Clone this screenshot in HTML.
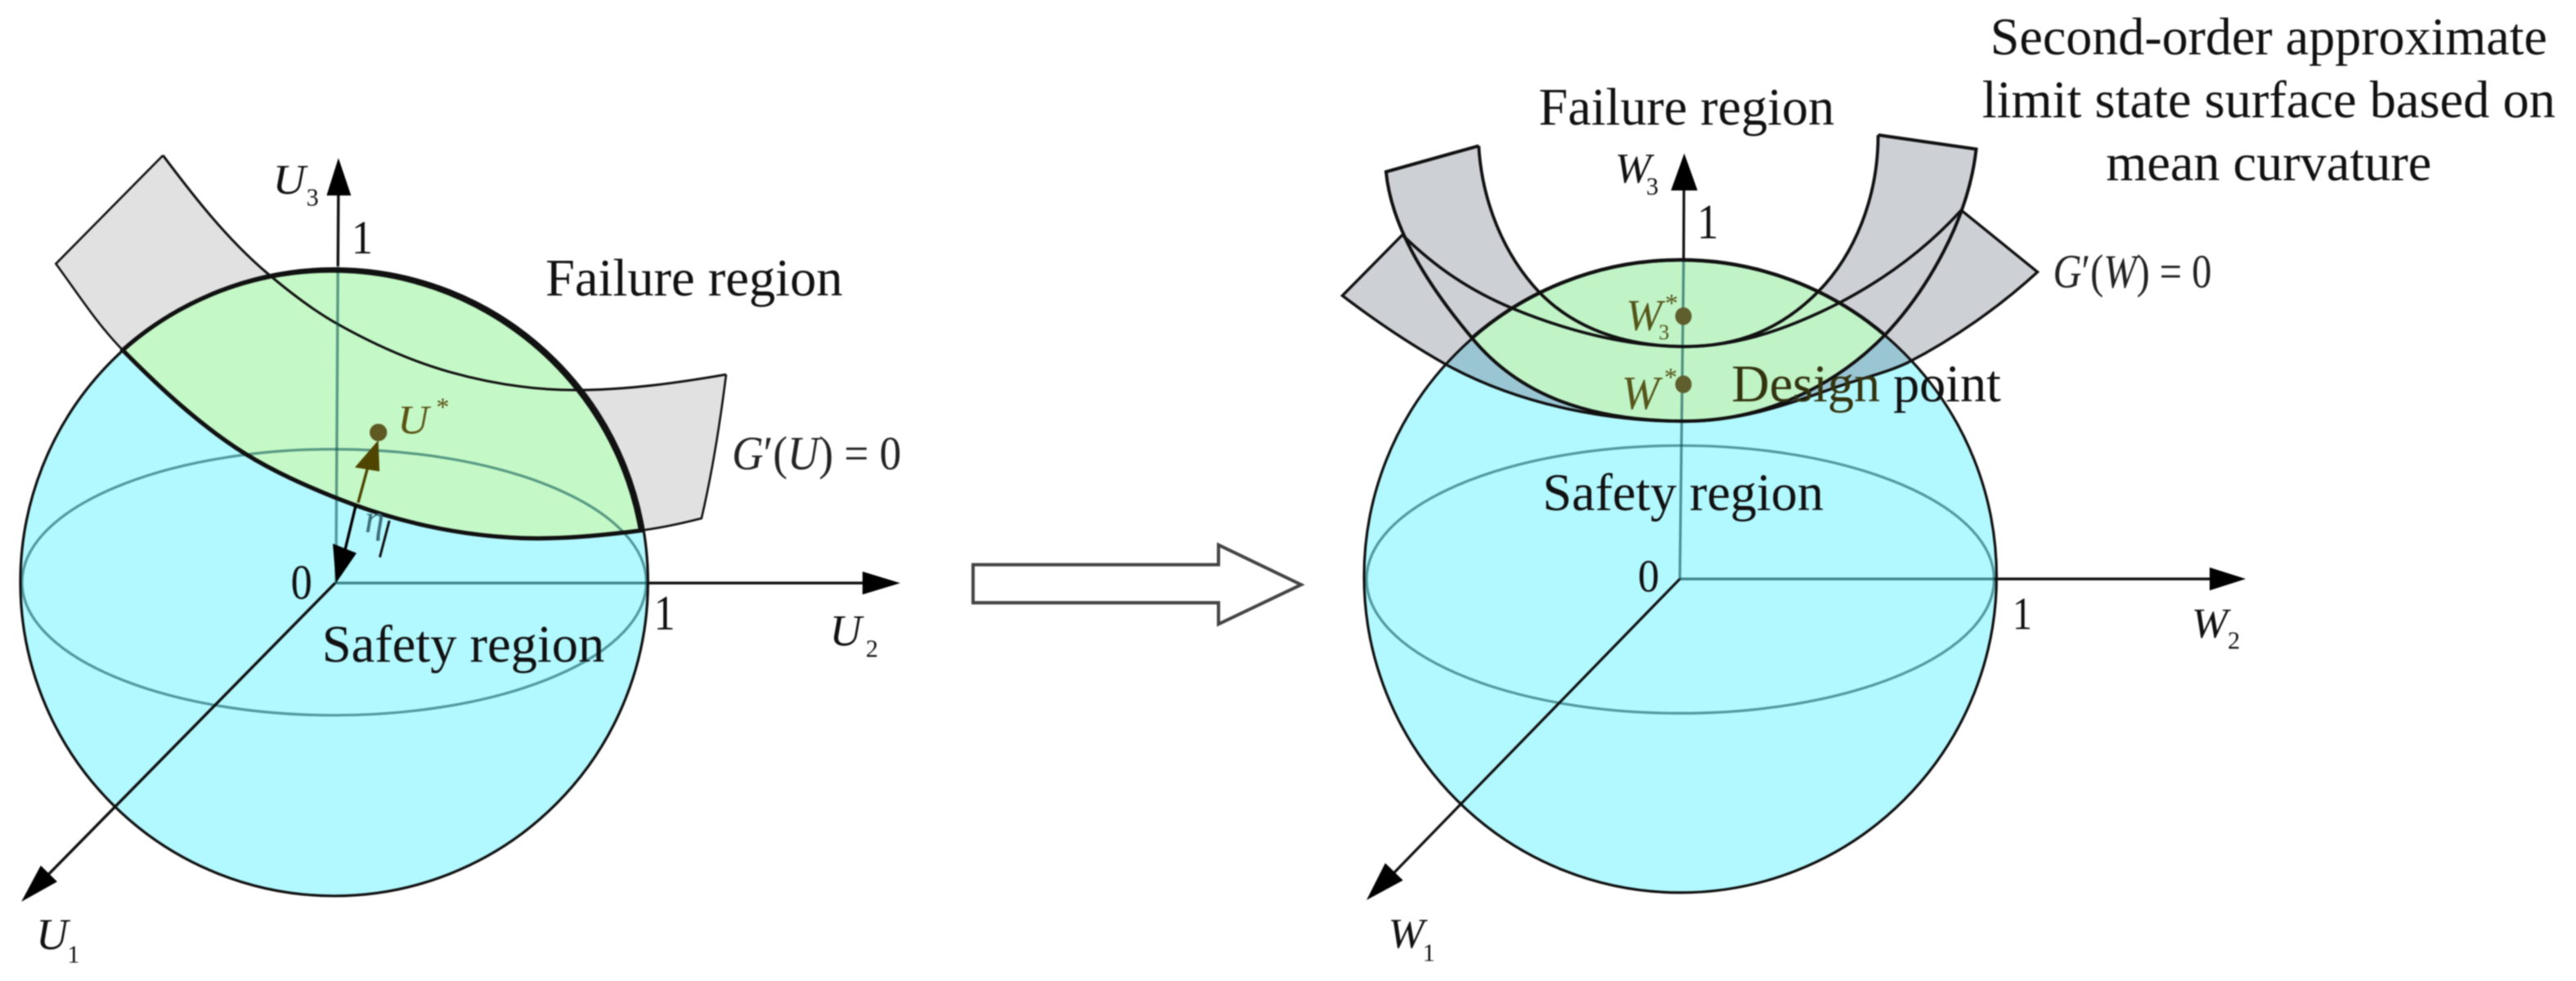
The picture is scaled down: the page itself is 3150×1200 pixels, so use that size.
<!DOCTYPE html>
<html><head><meta charset="utf-8"><style>
html,body{margin:0;padding:0;background:#fff}
svg{display:block;filter:blur(.7px)}
text{font-family:"Liberation Serif","DejaVu Serif",serif;fill:#111}
.i{font-style:italic}
</style></head><body>
<svg xmlns="http://www.w3.org/2000/svg" width="3150" height="1200" viewBox="0 0 1568 597.3" preserveAspectRatio="none">
<defs>
<clipPath id="cR"><circle cx="1022.8" cy="351" r="192.5"/></clipPath>
</defs>
<rect width="1568" height="597.3" fill="#fff"/>

<!-- LEFT -->
<path fill-rule="evenodd" fill="#e1e1e1" d="M34,160.6 C47,178.2 59.3,197.6 74.7,213.2 C97.1,235.9 122.1,259.3 149.3,276.3 C167.2,287.4 186.2,295.8 205.7,303.6 C242,318 281,326.5 320,327.7 C343,328.4 367.2,326 390,323 C402.4,321.4 414.9,318.7 427,315.6 C433,290 438,260 442,228 L99.2,94.6 Z M99.2,94.6 C118.1,119.8 137.9,145.1 161.8,165.6 C175.5,177.3 190,188.6 205.7,197.4 C227.2,209.5 250.1,219.8 273.8,226.5 C298.8,233.5 324.6,237.5 350.6,237.5 C381.2,237.5 411.9,233.2 442,228 Z"/>
<path fill="none" stroke="#111" stroke-width="1.3" d="M74.7,213.2 C59.3,197.6 47,178.2 34,160.6 L99.2,94.6"/>
<path fill="none" stroke="#111" stroke-width="1.3" d="M390,323 C402.4,321.4 414.9,318.7 427,315.6 C433,290 438,260 442,228"/>
<circle cx="203.4" cy="354.5" r="191" fill="#b2f8ff"/>
<path fill="#c4f8c6" d="M74.7,213.2 C97.1,235.9 122.1,259.3 149.3,276.3 C167.2,287.4 186.2,295.8 205.7,303.6 C242,318 281,326.5 320,327.7 C343,328.4 367.2,326 390,323 A191,191 0 0 0 74.7,213.2 Z"/>
<path fill="none" stroke="#111" stroke-width="1.5" d="M99.2,94.6 C118.1,119.8 137.9,145.1 161.8,165.6 C175.5,177.3 190,188.6 205.7,197.4 C227.2,209.5 250.1,219.8 273.8,226.5 C298.8,233.5 324.6,237.5 350.6,237.5 C381.2,237.5 411.9,233.2 442,228"/>
<!-- left equator & inner axes -->
<ellipse cx="203.4" cy="354.5" rx="190" ry="81" fill="none" stroke="#004c50" stroke-opacity=".55" stroke-width="1.6"/>
<line x1="204.5" y1="355" x2="205.7" y2="162" stroke="#004c50" stroke-opacity=".55" stroke-width="1.7"/>
<line x1="204" y1="355" x2="394" y2="355" stroke="#004c50" stroke-opacity=".65" stroke-width="1.7"/>
<circle cx="203.4" cy="354.5" r="191" fill="none" stroke="#111" stroke-width="1.6"/>
<path fill="none" stroke="#111" stroke-width="2.6" d="M74.7,213.2 C97.1,235.9 122.1,259.3 149.3,276.3 C167.2,287.4 186.2,295.8 205.7,303.6 C242,318 281,326.5 320,327.7 C343,328.4 367.2,326 390,323 A191,191 0 0 0 74.7,213.2 Z"/>
<!-- left axes -->
<line x1="205.7" y1="162" x2="206" y2="116" stroke="#111" stroke-width="1.7"/>
<polygon points="206,96.2 213.7,119 198.8,119" fill="#000"/>
<line x1="394" y1="355" x2="527" y2="355" stroke="#111" stroke-width="1.7"/>
<polygon points="548,355 525,348 525,362" fill="#000"/>
<line x1="204" y1="355" x2="25" y2="537" stroke="#111" stroke-width="1.7"/>
<polygon points="13,549 34.8,536.8 24.8,527" fill="#000"/>
<!-- eta arrows -->
<line x1="218" y1="306" x2="224" y2="284" stroke="#4f4500" stroke-width="1.7"/>
<line x1="216.5" y1="308" x2="210" y2="335" stroke="#000" stroke-width="1.7"/>
<polygon points="230.3,268 216,284.6 231,287" fill="#4f4500"/>
<polygon points="204.5,355 202.6,331 217,336.8" fill="#000"/>
<circle cx="230.3" cy="263.3" r="5.3" fill="#5f5a24"/>
<line x1="237" y1="317" x2="231.2" y2="339.3" stroke="#111" stroke-width="1.5"/>
<text class="i" x="222" y="324" font-size="24" style="fill:#3d7078">η</text>

<!-- left labels -->
<text x="332" y="180" font-size="32" textLength="181" lengthAdjust="spacingAndGlyphs">Failure region</text>
<text x="196" y="403" font-size="32" textLength="172" lengthAdjust="spacingAndGlyphs">Safety region</text>
<text class="i" x="166" y="118" font-size="26" textLength="20" lengthAdjust="spacingAndGlyphs">U</text><text x="186.5" y="125.3" font-size="15">3</text>
<text x="214" y="154.3" font-size="29" textLength="13" lengthAdjust="spacingAndGlyphs">1</text>
<text x="177" y="364.7" font-size="30" textLength="13" lengthAdjust="spacingAndGlyphs">0</text>
<text x="398" y="383.3" font-size="30" textLength="13" lengthAdjust="spacingAndGlyphs">1</text>
<text class="i" x="505" y="393" font-size="27">U</text><text x="527" y="400" font-size="15">2</text>
<text class="i" x="22" y="578" font-size="27">U</text><text x="41" y="586" font-size="15">1</text>
<text class="i" x="242" y="263.8" font-size="25" textLength="19" lengthAdjust="spacingAndGlyphs" style="fill:#5a5212">U</text><text x="265.5" y="253" font-size="16" style="fill:#5a5212">*</text>
<text x="445.6" y="285.7" font-size="29" textLength="103" lengthAdjust="spacingAndGlyphs" style="fill:#222"><tspan class="i">G</tspan>′(<tspan class="i">U</tspan>) = 0</text>

<!-- big arrow -->
<polygon points="592.3,343.8 741.7,343.8 741.7,331.8 792,356 741.7,380 741.7,367 592.3,367" fill="#fff" stroke="#444" stroke-width="2"/>

<!-- RIGHT -->
<path fill-rule="evenodd" fill="#cdd0d5" d="M817.1,180 C838,196 859,210 881,222.4 C906,236 933,245 962.3,250.6 C983,254.5 1004,256.6 1025.4,256.6 C1058,256.6 1086,247 1113.3,237.3 C1130,231 1146,228 1161.4,220.7 C1190,206 1218,186 1240.2,165.6 L1193.8,128 L853.6,143 Z M853.6,143 C874,163 895,177 920,187.5 C950,200 988,211 1025.4,211 C1060,211 1092,198.5 1120,184.2 C1147,170 1172,152 1193.8,128 Z"/>
<path fill-rule="evenodd" fill="#cdd0d5" d="M843.7,104.6 C847,140 871,176 896,205.8 C925,241 968,256.4 1025.4,256.4 C1075,256.4 1118,234 1147.3,204 C1172,178 1198,135 1202.9,90.8 L1143.2,82.2 L900.1,88.8 Z M900.1,88.8 C902,122 915,155 937.4,178.4 C960,201.5 992,211 1025.4,211 C1058,211 1084,200.5 1106.7,177.6 C1129,155 1143.2,120 1143.2,82.2 Z"/>
<circle cx="1022.8" cy="351" r="192.5" fill="#b2f8ff"/>
<g clip-path="url(#cR)">
<path fill="#9ac6d4" d="M817.1,180 C838,196 859,210 881,222.4 C906,236 933,245 962.3,250.6 C983,254.5 1004,256.6 1025.4,256.6 C1058,256.6 1086,247 1113.3,237.3 C1130,231 1146,228 1161.4,220.7 C1190,206 1218,186 1240.2,165.6 L1193.8,128 L853.6,143 Z"/>
</g>
<path fill="#c0f3c6" d="M896,205.8 C925,241 968,256.4 1025.4,256.4 C1075,256.4 1118,234 1147.3,204 A192.5,192.5 0 0 0 896,205.8 Z"/>

<!-- right equator & inner axes -->
<ellipse cx="1022.8" cy="352.8" rx="191" ry="81.5" fill="none" stroke="#004c50" stroke-opacity=".55" stroke-width="1.6"/>
<line x1="1022.5" y1="352.5" x2="1024.8" y2="159" stroke="#004c50" stroke-opacity=".6" stroke-width="1.6"/>
<line x1="1022.5" y1="352.5" x2="1214" y2="352.5" stroke="#004c50" stroke-opacity=".65" stroke-width="1.7"/>

<circle cx="1022.8" cy="351" r="192.5" fill="none" stroke="#111" stroke-width="1.6"/>
<!-- surface outlines -->
<path fill="none" stroke="#111" stroke-width="1.7" d="M853.6,143 L817.1,180 C838,196 859,210 881,222.4 C906,236 933,245 962.3,250.6 C983,254.5 1004,256.6 1025.4,256.6 C1058,256.6 1086,247 1113.3,237.3 C1130,231 1146,228 1161.4,220.7 C1190,206 1218,186 1240.2,165.6 L1193.8,128"/>
<path fill="none" stroke="#111" stroke-width="1.8" d="M853.6,143 C874,163 895,177 920,187.5 C950,200 988,211 1025.4,211 C1060,211 1092,198.5 1120,184.2 C1147,170 1172,152 1193.8,128"/>
<path fill="none" stroke="#111" stroke-width="2" d="M900.1,88.8 L843.7,104.6 C847,140 871,176 896,205.8 C925,241 968,256.4 1025.4,256.4 C1075,256.4 1118,234 1147.3,204 C1172,178 1198,135 1202.9,90.8 L1143.2,82.2"/>
<path fill="none" stroke="#111" stroke-width="1.9" d="M900.1,88.8 C902,122 915,155 937.4,178.4 C960,201.5 992,211 1025.4,211 C1058,211 1084,200.5 1106.7,177.6 C1129,155 1143.2,120 1143.2,82.2"/>
<path fill="none" stroke="#111" stroke-width="2.2" d="M896,205.8 A192.5,192.5 0 0 1 1147.3,204"/>

<!-- right axes -->
<line x1="1024.8" y1="159" x2="1025" y2="114" stroke="#111" stroke-width="1.6"/>
<polygon points="1025.2,93.4 1033.3,116 1017.1,116" fill="#000"/>
<line x1="1214" y1="352.5" x2="1347" y2="352.5" stroke="#111" stroke-width="1.7"/>
<polygon points="1367,352.5 1345,345.5 1345,359.5" fill="#000"/>
<line x1="1022.5" y1="352.5" x2="846" y2="534" stroke="#111" stroke-width="1.6"/>
<polygon points="831.8,548 854,536 843.2,525.5" fill="#000"/>
<ellipse cx="1024.7" cy="192.5" rx="5" ry="5.4" fill="#5f5f2e"/>
<ellipse cx="1024.7" cy="234" rx="5" ry="5.4" fill="#5f5f2e"/>

<!-- right labels -->
<text x="936.6" y="76" font-size="32" textLength="180" lengthAdjust="spacingAndGlyphs">Failure region</text>
<text x="939" y="310.6" font-size="32" textLength="171" lengthAdjust="spacingAndGlyphs">Safety region</text>
<text x="1054" y="244.5" font-size="32" textLength="164" lengthAdjust="spacingAndGlyphs"><tspan style="fill:#33330f">Design</tspan> point</text>
<text x="1381" y="33" font-size="32" text-anchor="middle" textLength="339" lengthAdjust="spacingAndGlyphs">Second-order approximate</text>
<text x="1381" y="71.5" font-size="32" text-anchor="middle" textLength="349" lengthAdjust="spacingAndGlyphs">limit state surface based on</text>
<text x="1381" y="109.7" font-size="32" text-anchor="middle">mean curvature</text>
<text class="i" x="983" y="111" font-size="26" textLength="22" lengthAdjust="spacingAndGlyphs">W</text><text x="1002" y="118.5" font-size="15">3</text>
<text x="1033" y="145.2" font-size="30" textLength="13" lengthAdjust="spacingAndGlyphs">1</text>
<text x="997" y="360" font-size="28" textLength="13" lengthAdjust="spacingAndGlyphs">0</text>
<text x="1225" y="383" font-size="28" textLength="12" lengthAdjust="spacingAndGlyphs">1</text>
<text class="i" x="1334" y="388" font-size="26" textLength="22" lengthAdjust="spacingAndGlyphs">W</text><text x="1356" y="395" font-size="15">2</text>
<text class="i" x="845" y="577" font-size="26" textLength="22" lengthAdjust="spacingAndGlyphs">W</text><text x="866" y="585" font-size="15">1</text>
<text class="i" x="989.7" y="200.8" font-size="27" textLength="22" lengthAdjust="spacingAndGlyphs" style="fill:#55551a">W</text><text x="1013.5" y="190" font-size="16" style="fill:#55551a">*</text><text x="1009.6" y="206.6" font-size="13" style="fill:#55551a">3</text>
<text class="i" x="987" y="248.9" font-size="29" textLength="23" lengthAdjust="spacingAndGlyphs" style="fill:#55551a">W</text><text x="1013" y="235" font-size="16" style="fill:#55551a">*</text>
<text x="1249.7" y="175" font-size="29" textLength="96.5" lengthAdjust="spacingAndGlyphs" style="fill:#222"><tspan class="i">G</tspan>′(<tspan class="i">W</tspan>) = 0</text>
</svg>
</body></html>
